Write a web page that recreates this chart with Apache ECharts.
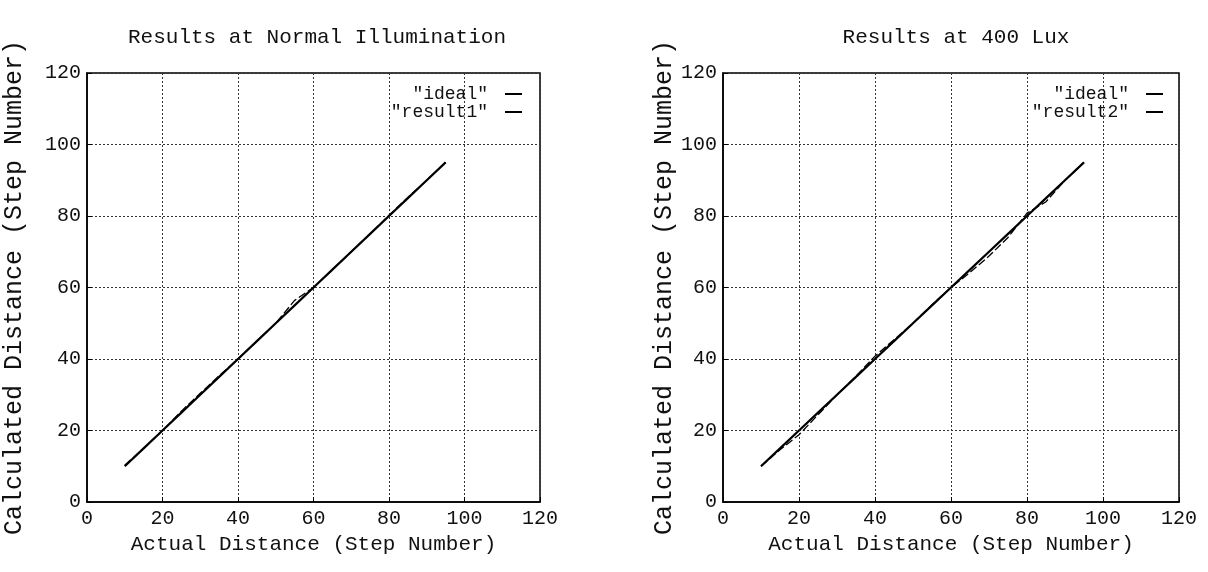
<!DOCTYPE html>
<html>
<head>
<meta charset="utf-8">
<script src="https://cdn.jsdelivr.net/npm/echarts@6/dist/echarts.min.js"></script>
<style>html,body{margin:0;padding:0;background:#fff;}#c{width:1208px;height:572px;}</style>
</head>
<body>
<div id="c"></div>
<script>
// ---- data ----
const steps = [10, 15, 20, 25, 30, 35, 40, 45, 50, 55, 60, 65, 70, 75, 80, 85, 90, 95];
const ideal = [10, 15, 20, 25, 30, 35, 40, 45, 50, 55, 60, 65, 70, 75, 80, 85, 90, 95];
const result1 = [10.3, 15, 20, 25.4, 30.4, 35.3, 40, 45, 50, 56.4, 60, 65, 70, 75, 80.2, 85.2, 90, 95];
const result2 = [10, 14.6, 18.8, 24.4, 30, 35.2, 40.8, 45.4, 50, 55.2, 60, 64.2, 68.8, 74, 80.8, 84, 90, 95];
const xTicks = [0, 20, 40, 60, 80, 100, 120];
const yTicks = [0, 20, 40, 60, 80, 100, 120];
const titles = ['Results at Normal Illumination', 'Results at 400 Lux'];
const xName = 'Actual Distance (Step Number)';
const yName = 'Calculated Distance (Step Number)';

const font = 'Liberation Mono, Courier New, monospace';
const pairs = a => steps.map((s, i) => [s, a[i]]);

function xAxis(idx) {
  return {
    gridIndex: idx, type: 'value', min: 0, max: 120, interval: 20,
    name: xName, nameLocation: 'middle', nameGap: 22,
    nameTextStyle: {fontFamily: font, fontSize: 21, color: '#111'},
    axisLine: {show: true, lineStyle: {color: '#000', width: 1.5}},
    axisTick: {show: true, inside: true, length: 5, lineStyle: {color: '#000'}},
    axisLabel: {fontFamily: font, fontSize: 20, color: '#111', margin: 7,
      formatter: v => xTicks.includes(v) ? String(v) : ''},
    splitLine: {show: true, lineStyle: {color: '#333', type: [2, 2], width: 1}}
  };
}
function yAxis(idx, gap) {
  return {
    gridIndex: idx, type: 'value', min: 0, max: 120, interval: 20,
    name: yName, nameLocation: 'middle', nameGap: gap,
    nameTextStyle: {fontFamily: font, fontSize: 25, color: '#111'},
    axisLine: {show: true, lineStyle: {color: '#000', width: 1.5}},
    axisTick: {show: true, inside: true, length: 5, lineStyle: {color: '#000'}},
    axisLabel: {fontFamily: font, fontSize: 20, color: '#111', margin: 6,
      formatter: v => yTicks.includes(v) ? String(v) : ''},
    splitLine: {show: true, lineStyle: {color: '#333', type: [2, 2], width: 1}}
  };
}
function lineSeries(name, data, idx, solid) {
  return {
    name: name, type: 'line', xAxisIndex: idx, yAxisIndex: idx,
    data: pairs(data), symbol: 'none', smooth: false,
    lineStyle: solid ? {color: '#000', width: 2.2} : {color: '#000', width: 1.3, type: [8, 3]},
    itemStyle: {color: '#000'}, z: solid ? 3 : 4
  };
}
function legend(right, names) {
  return {
    orient: 'vertical', right: right, top: 80, align: 'right',
    itemWidth: 17, itemHeight: 2, itemGap: 0,
    icon: 'rect',
    data: names,
    formatter: n => '"' + n.replace(/ .*/, '') + '"',
    textStyle: {fontFamily: font, fontSize: 18, color: '#111', padding: [0, 12, 0, 0]}
  };
}

const chart = echarts.init(document.getElementById('c'), null, {renderer: 'canvas'});
chart.setOption({
  backgroundColor: '#fff',
  animation: false,
  title: [
    {text: titles[0], left: 312, top: 22, textAlign: 'center',
     textStyle: {fontFamily: font, fontSize: 21, fontWeight: 'normal', color: '#111'}},
    {text: titles[1], left: 951, top: 22, textAlign: 'center',
     textStyle: {fontFamily: font, fontSize: 21, fontWeight: 'normal', color: '#111'}}
  ],
  grid: [
    {left: 87, right: 668, top: 73, bottom: 70, show: true, borderColor: '#000', borderWidth: 1.5},
    {left: 723, right: 29, top: 73, bottom: 70, show: true, borderColor: '#000', borderWidth: 1.5}
  ],
  legend: [
    legend(681, ['ideal', 'result1']),
    legend(40, ['ideal ', 'result2'])
  ],
  xAxis: [xAxis(0), xAxis(1)],
  yAxis: [yAxis(0, 60), yAxis(1, 17)],
  series: [
    lineSeries('ideal', ideal, 0, true),
    lineSeries('result1', result1, 0, false),
    lineSeries('ideal ', ideal, 1, true),
    lineSeries('result2', result2, 1, false)
  ]
});
</script>
</body>
</html>
